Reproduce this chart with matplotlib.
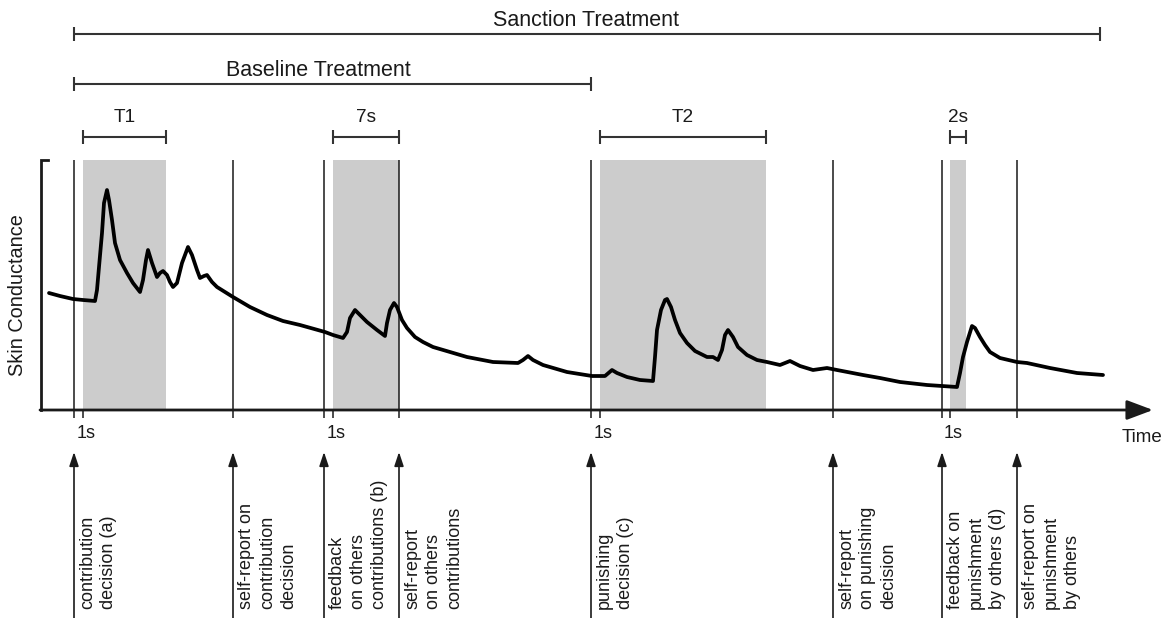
import numpy as np
import matplotlib
matplotlib.use("Agg")
import matplotlib.pyplot as plt

plt.rcParams['font.family'] = ['Liberation Sans', 'DejaVu Sans']

# schematic in picture units (x to the right, y downward)
event_x = [74, 233, 324, 399, 591, 833, 942, 1017]
event_labels = [
    "contribution\ndecision (a)",
    "self-report on\ncontribution\ndecision",
    "feedback\non others\ncontributions (b)",
    "self-report\non others\ncontributions",
    "punishing\ndecision (c)",
    "self-report\non punishing\ndecision",
    "feedback on\npunishment\nby others (d)",
    "self-report on\npunishment\nby others",
]

# analysis windows (start 1s after the event)
win_start = [83, 333, 600, 950]
win_end = [166, 399, 766, 966]
win_labels = ["T1", "7s", "T2", "2s"]

# treatment spans
span_start = [74, 74]
span_end = [1100, 591]
span_labels = ["Sanction Treatment", "Baseline Treatment"]
span_y = [34, 84]
span_text_x = [586, 318]

# skin conductance trace
sc_t = [49, 60, 73, 83, 95, 97, 99, 102, 104, 107, 109, 112, 115, 120, 127, 133, 140,
        143, 146, 148, 152, 157, 160, 163, 167, 170, 173, 177, 182, 188, 192, 197, 200,
        204, 207, 212, 217, 225, 233, 250, 267, 283, 300, 325, 333, 343,
        347, 350, 355, 360, 367, 377, 385, 387, 390, 394, 397, 402, 407, 415, 423,
        433, 450, 467, 493, 518, 523, 528, 533, 543, 567, 592, 605, 612,
        617, 627, 640, 653, 655, 657, 661, 665, 667, 671, 675, 680, 687, 695, 707,
        713, 718, 722, 725, 728, 733, 738, 747, 757, 767, 780, 790, 800, 813, 827,
        837, 863, 880, 900, 927, 942, 957, 960, 963, 967, 972, 975, 980, 985, 990,
        1000, 1017, 1027, 1050, 1077, 1103]
sc_v = [293, 296, 299, 300, 301, 290, 267, 233, 203, 190, 200, 220, 243, 260, 273, 283, 292,
        280, 260, 250, 263, 277, 273, 271, 275, 282, 287, 283, 263, 247, 255, 270, 278,
        276, 275, 282, 287, 292, 297, 307, 315, 321, 325, 332, 335, 338,
        332, 318, 310, 315, 322, 330, 336, 323, 310, 303, 307, 320, 328, 337, 342,
        347, 352, 357, 362, 363, 360, 356, 360, 365, 372, 376, 376, 370,
        373, 377, 380, 381, 357, 330, 310, 300, 299, 307, 320, 333, 343, 351, 357,
        357, 360, 350, 335, 330, 337, 347, 355, 360, 362, 365, 361, 366, 370, 368,
        370, 375, 378, 382, 385, 386, 387, 373, 357, 342, 326, 328, 337, 345, 352,
        358, 362, 363, 368, 373, 375]

axis_y = 410
top_y = 160
ink = '#1a1a1a'

fig = plt.figure(figsize=(11.67, 6.18), dpi=100)
ax = fig.add_axes([0, 0, 1, 1])
ax.set_xlim(0, 1167)
ax.set_ylim(618, 0)
ax.axis('off')

# shaded windows
for s, e in zip(win_start, win_end):
    ax.fill_between([s, e], top_y, axis_y, color='#cccccc', lw=0, zorder=1)

# event lines and the 1s marks
ax.vlines(event_x, top_y, axis_y + 8, color=ink, lw=1.1, zorder=2)
ax.vlines(win_start, axis_y, axis_y + 8, color=ink, lw=1.1, zorder=2)

# axes
ax.plot([48, 41, 41], [top_y, top_y, axis_y], color=ink, lw=2, zorder=3,
        solid_joinstyle='miter')
ax.annotate('', xy=(1153, axis_y), xytext=(40, axis_y),
            arrowprops=dict(arrowstyle='-|>,head_length=0.8,head_width=0.3',
                            mutation_scale=20, lw=2, color=ink, shrinkA=0, shrinkB=0),
            zorder=3)
ax.text(1142, 437, "Time", fontsize=13.5, ha='center', va='center', color=ink)
ax.text(18, 295, "Skin Conductance", fontsize=14.3, rotation=90, ha='center',
        va='center', color=ink)
for s in win_start:
    ax.text(s + 3, 433, "1s", fontsize=13, ha='center', va='center', color=ink)

# trace
ax.plot(sc_t, sc_v, color='black', lw=2.7, zorder=4, solid_joinstyle='round',
        solid_capstyle='round')

# brackets
def bracket(x0, x1, y, label, tx, ty, size):
    ax.hlines(y, x0, x1, color='#333333', lw=1.5)
    ax.vlines([x0, x1], y - 7, y + 7, color='#333333', lw=1.5)
    ax.text(tx, ty, label, fontsize=size, ha='center', va='center', color=ink)

for s, e, y, lab, tx in zip(span_start, span_end, span_y, span_labels, span_text_x):
    bracket(s, e, y, lab, tx, y - 14, 15.5)
for s, e, lab in zip(win_start, win_end, win_labels):
    bracket(s, e, 137, lab, (s + e) / 2, 118, 13.7)

# event arrows and labels
for x, lab in zip(event_x, event_labels):
    ax.annotate('', xy=(x, 452), xytext=(x, 620),
                arrowprops=dict(arrowstyle='-|>,head_length=0.6,head_width=0.2',
                                mutation_scale=14, lw=1.2, color=ink,
                                shrinkA=0, shrinkB=0))
    ax.text(x + 5, 609, lab, fontsize=13, rotation=90, rotation_mode='anchor',
            ha='left', va='top', multialignment='left', linespacing=1.3, color=ink)

fig.savefig('out.png', dpi=100)
